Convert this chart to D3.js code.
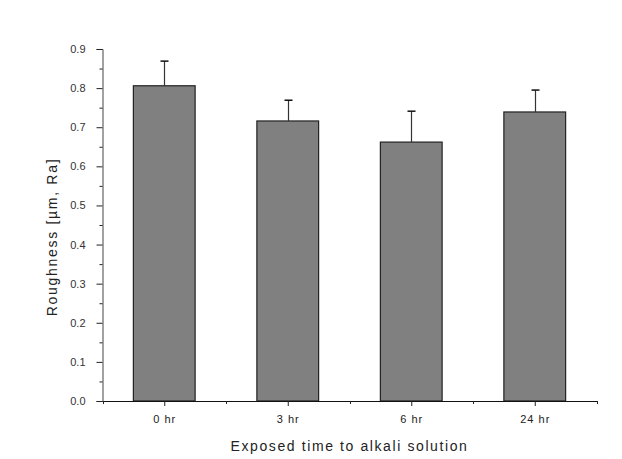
<!DOCTYPE html>
<html>
<head>
<meta charset="utf-8">
<script src="https://d3js.org/d3.v7.min.js"></script>
<style>
  body { margin: 0; background: #fff; }
  text { font-family: "Liberation Sans", Arial, sans-serif; }
</style>
</head>
<body>
<svg id="chart" width="622" height="459"></svg>
<script>
  // data
  const categories = ["0 hr", "3 hr", "6 hr", "24 hr"];
  const roughness = [0.806, 0.716, 0.662, 0.739];
  const errUp = [0.063, 0.053, 0.079, 0.056];
  const yTicks = [0, 0.1, 0.2, 0.3, 0.4, 0.5, 0.6, 0.7, 0.8, 0.9];

  const svg = d3.select("#chart");
  const mLeft = 102.5, mRight = 596.5, mTop = 49, mBottom = 401;

  // categories sit at 1..4, axis runs 0.5..4.5
  const x = d3.scaleLinear().domain([0.5, 4.5]).range([mLeft, mRight]);
  const y = d3.scaleLinear().domain([0, 0.9]).range([mBottom, mTop]);
  const barW = (x(2) - x(1)) / 2;

  // bars
  svg.selectAll("rect.bar")
    .data(roughness)
    .join("rect")
    .attr("class", "bar")
    .attr("x", (d, i) => x(i + 1) - barW / 2)
    .attr("y", d => y(d))
    .attr("width", barW)
    .attr("height", d => y(0) - y(d))
    .attr("fill", "#808080")
    .attr("stroke", "#222")
    .attr("stroke-width", 1.2);

  // error bars (upper only)
  const eb = svg.append("g");
  roughness.forEach((d, i) => {
    const cx = Math.round(x(i + 1)) + 0.5;
    eb.append("line")
      .attr("x1", cx).attr("x2", cx)
      .attr("y1", y(d)).attr("y2", y(d + errUp[i]))
      .attr("stroke", "#333").attr("stroke-width", 1.2);
    eb.append("line")
      .attr("x1", cx - 4).attr("x2", cx + 4)
      .attr("y1", y(d + errUp[i])).attr("y2", y(d + errUp[i]))
      .attr("stroke", "#111").attr("stroke-width", 1.5);
  });

  // y axis
  const yAxis = svg.append("g").attr("transform", `translate(${mLeft},0)`);
  yAxis.call(d3.axisLeft(y).tickValues(yTicks).tickSize(6).tickFormat(d3.format(".1f")));
  yAxis.select(".domain").attr("stroke", "#444");
  yAxis.selectAll(".tick line").attr("stroke", "#222");
  yAxis.selectAll(".tick text")
    .attr("x", -17).attr("fill", "#333").style("font-size", "11px");
  // minor ticks
  yAxis.selectAll("line.minor")
    .data(d3.range(0, 9).map(v => v / 10 + 0.05))
    .join("line")
    .attr("class", "minor")
    .attr("x1", -3).attr("x2", 0)
    .attr("y1", d => y(d) + 0.5).attr("y2", d => y(d) + 0.5)
    .attr("stroke", "#222");

  // x axis
  const xAxis = svg.append("g").attr("transform", `translate(0,${mBottom})`);
  xAxis.call(d3.axisBottom(x).tickValues([1, 2, 3, 4]).tickSize(5).tickSizeOuter(0)
    .tickFormat((d, i) => categories[i]));
  xAxis.select(".domain").attr("stroke", "#111");
  xAxis.selectAll(".tick line").attr("stroke", "#222");
  xAxis.selectAll(".tick text")
    .attr("dy", 0).attr("y", 22).attr("fill", "#222")
    .style("font-size", "11px").style("letter-spacing", "1px");
  xAxis.selectAll("line.minor")
    .data([0.5, 1.5, 2.5, 3.5, 4.5])
    .join("line")
    .attr("class", "minor")
    .attr("x1", d => Math.round(x(d)) + 0.5).attr("x2", d => Math.round(x(d)) + 0.5)
    .attr("y1", 0).attr("y2", 3)
    .attr("stroke", "#222");

  // axis titles
  svg.append("text")
    .attr("x", (mLeft + mRight) / 2).attr("y", 451)
    .attr("text-anchor", "middle")
    .attr("fill", "#222")
    .style("font-size", "14px")
    .style("letter-spacing", "1.6px")
    .text("Exposed time to alkali solution");

  svg.append("text")
    .attr("transform", "translate(57,237) rotate(-90)")
    .attr("text-anchor", "middle")
    .attr("fill", "#222")
    .style("font-size", "14px")
    .style("letter-spacing", "1.7px")
    .text("Roughness [µm, Ra]");
</script>
</body>
</html>
